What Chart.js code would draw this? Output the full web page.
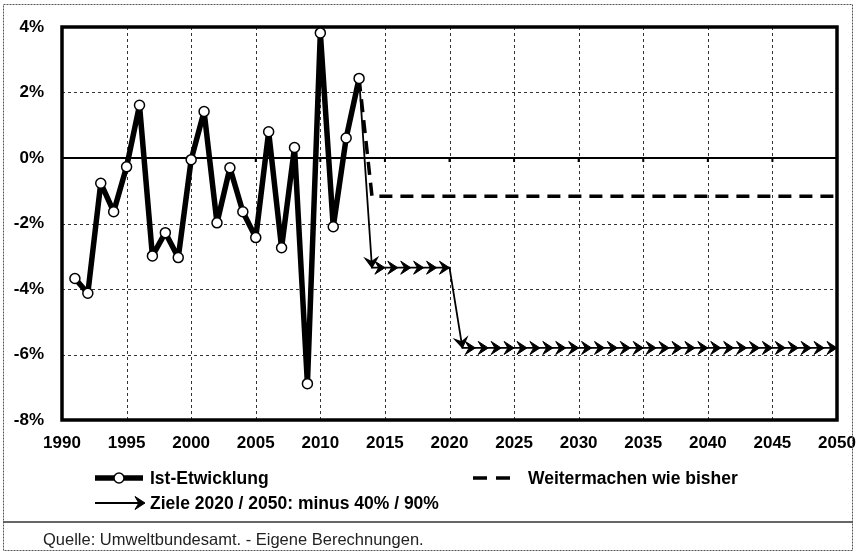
<!DOCTYPE html>
<html>
<head>
<meta charset="utf-8">
<script src="https://cdn.jsdelivr.net/npm/chart.js@4/dist/chart.umd.min.js"></script>
<style>
html,body{margin:0;padding:0;background:#fff;}
#wrap{width:856px;height:552px;position:relative;}
</style>
</head>
<body>
<div id="wrap"><canvas id="c" width="856" height="552"></canvas></div>
<script>
// ---- DATA ----
const istYears = [1991,1992,1993,1994,1995,1996,1997,1998,1999,2000,2001,2002,2003,2004,2005,2006,2007,2008,2009,2010,2011,2012,2013];
const istValues = [-3.68,-4.13,-0.77,-1.64,-0.27,1.61,-2.99,-2.28,-3.04,-0.05,1.42,-1.98,-0.30,-1.64,-2.43,0.80,-2.74,0.32,-6.89,3.82,-2.10,0.61,2.43];

const bauYears = [2013,2014,2050];
const bauValues = [2.43,-1.17,-1.17];

const zielYears = [2013,2014,2015,2016,2017,2018,2019,2020,2021,2022,2023,2024,2025,2026,2027,2028,2029,2030,2031,2032,2033,2034,2035,2036,2037,2038,2039,2040,2041,2042,2043,2044,2045,2046,2047,2048,2049,2050];
const zielValues = [2.43,-3.35,-3.35,-3.35,-3.35,-3.35,-3.35,-3.35,-5.8,-5.8,-5.8,-5.8,-5.8,-5.8,-5.8,-5.8,-5.8,-5.8,-5.8,-5.8,-5.8,-5.8,-5.8,-5.8,-5.8,-5.8,-5.8,-5.8,-5.8,-5.8,-5.8,-5.8,-5.8,-5.8,-5.8,-5.8,-5.8,-5.8];

const xTickMin = 1990, xTickMax = 2050, xTickStep = 5;
const yTickMin = -8, yTickMax = 4, yTickStep = 2;

const labels = {
  ist: 'Ist-Etwicklung',
  bau: 'Weitermachen wie bisher',
  ziel: 'Ziele 2020 / 2050: minus 40% / 90%',
  source: 'Quelle: Umweltbundesamt. - Eigene Berechnungen.'
};

const toPts = (xs, ys) => xs.map((x, i) => ({x: x, y: ys[i]}));

const FONT = '"Liberation Sans", Arial, sans-serif';

function drawArrowHead(ctx, x, y, ang, len, half) {
  ctx.save();
  ctx.translate(x, y);
  ctx.rotate(ang);
  ctx.beginPath();
  ctx.moveTo(0, 0);
  ctx.lineTo(-len, -half);
  ctx.lineTo(-len * 0.62, 0);
  ctx.lineTo(-len, half);
  ctx.closePath();
  ctx.fill();
  ctx.lineWidth = 1;
  ctx.lineJoin = 'miter';
  ctx.stroke();
  ctx.restore();
}

const decor = {
  id: 'decor',
  beforeDraw(chart) {
    const ctx = chart.ctx;
    ctx.save();
    ctx.fillStyle = '#fff';
    ctx.fillRect(0, 0, chart.width, chart.height);
    ctx.restore();
  },
  beforeDatasetsDraw(chart) {
    const ctx = chart.ctx, a = chart.chartArea;
    const xs = chart.scales.x, ys = chart.scales.y;
    ctx.save();
    ctx.strokeStyle = '#333';
    ctx.lineWidth = 1;
    ctx.setLineDash([3, 3]);
    xs.ticks.forEach(t => {
      if (t.value <= xTickMin || t.value >= xTickMax) return;
      const px = Math.round(xs.getPixelForValue(t.value)) + 0.5;
      ctx.beginPath(); ctx.moveTo(px, a.top); ctx.lineTo(px, a.bottom); ctx.stroke();
    });
    ys.ticks.forEach(t => {
      if (t.value <= yTickMin || t.value >= yTickMax || t.value === 0) return;
      const py = Math.round(ys.getPixelForValue(t.value)) + 0.5;
      ctx.beginPath(); ctx.moveTo(a.left, py); ctx.lineTo(a.right, py); ctx.stroke();
    });
    ctx.setLineDash([]);
    const y0 = ys.getPixelForValue(0);
    ctx.strokeStyle = '#000';
    ctx.lineWidth = 2;
    ctx.beginPath(); ctx.moveTo(a.left, y0); ctx.lineTo(a.right, y0); ctx.stroke();
    xs.ticks.forEach(t => {
      const px = xs.getPixelForValue(t.value);
      ctx.beginPath(); ctx.moveTo(px, y0); ctx.lineTo(px, y0 + 4); ctx.stroke();
    });
    ctx.lineWidth = 3.5;
    ctx.strokeRect(a.left, a.top, a.right - a.left, a.bottom - a.top);
    ctx.restore();
  },
  afterDatasetsDraw(chart) {
    const ctx = chart.ctx;
    const meta = chart.getDatasetMeta(2);
    ctx.save();
    ctx.fillStyle = '#000';
    ctx.strokeStyle = '#000';
    for (let i = 1; i < meta.data.length; i++) {
      const p0 = meta.data[i - 1], p1 = meta.data[i];
      const ang = Math.atan2(p1.y - p0.y, p1.x - p0.x);
      drawArrowHead(ctx, p1.x, p1.y, ang, 10, 6.5);
    }
    ctx.restore();
  },
  afterDraw(chart) {
    const ctx = chart.ctx;
    ctx.save();
    const r1 = 478, r2 = 503;
    ctx.strokeStyle = '#000';
    ctx.lineWidth = 5.5;
    ctx.beginPath(); ctx.moveTo(95, r1); ctx.lineTo(143, r1); ctx.stroke();
    ctx.fillStyle = '#fff';
    ctx.lineWidth = 1.5;
    ctx.beginPath(); ctx.arc(119, r1, 5, 0, Math.PI * 2); ctx.fill(); ctx.stroke();
    ctx.fillStyle = '#000';
    ctx.font = 'bold 17.5px ' + FONT;
    ctx.textAlign = 'left';
    ctx.textBaseline = 'middle';
    ctx.fillText(labels.ist, 150, r1 + 1);
    ctx.lineWidth = 3.5;
    ctx.beginPath(); ctx.moveTo(473, r1); ctx.lineTo(487, r1); ctx.moveTo(496, r1); ctx.lineTo(510, r1); ctx.stroke();
    ctx.fillText(labels.bau, 528, r1 + 1);
    ctx.lineWidth = 1.8;
    ctx.beginPath(); ctx.moveTo(95, r2); ctx.lineTo(140, r2); ctx.stroke();
    drawArrowHead(ctx, 145, r2, 0, 10, 6.5);
    ctx.fillText(labels.ziel, 150, r2 + 1);
    ctx.strokeStyle = '#333';
    ctx.lineWidth = 1.5;
    ctx.beginPath(); ctx.moveTo(3, 522); ctx.lineTo(853, 522); ctx.stroke();
    ctx.font = '16.5px ' + FONT;
    ctx.fillStyle = '#222';
    ctx.fillText(labels.source, 43, 540);
    ctx.strokeStyle = '#555';
    ctx.lineWidth = 1;
    ctx.setLineDash([2, 1]);
    ctx.strokeRect(3.5, 4.5, 849, 546);
    ctx.restore();
  }
};

new Chart(document.getElementById('c'), {
  type: 'line',
  data: {
    datasets: [
      {
        label: labels.ist,
        data: toPts(istYears, istValues),
        borderColor: '#000',
        borderWidth: 5.5,
        borderJoinStyle: 'round',
        pointRadius: 5,
        pointBackgroundColor: '#fff',
        pointBorderColor: '#000',
        pointBorderWidth: 1.5,
        tension: 0,
        order: 0
      },
      {
        label: labels.bau,
        data: toPts(bauYears, bauValues),
        borderColor: '#000',
        borderWidth: 3.5,
        borderDash: [13, 8],
        pointRadius: 0,
        tension: 0,
        order: 1
      },
      {
        label: labels.ziel,
        data: toPts(zielYears, zielValues),
        borderColor: '#000',
        borderWidth: 1.8,
        pointRadius: 0,
        tension: 0,
        order: 2
      }
    ]
  },
  options: {
    responsive: false,
    animation: false,
    devicePixelRatio: 1,
    layout: { padding: { top: 27, right: 19, bottom: 92, left: 0 } },
    plugins: { legend: { display: false }, tooltip: { enabled: false } },
    scales: {
      x: {
        type: 'linear',
        min: xTickMin, max: xTickMax,
        grid: { display: false, drawTicks: false },
        border: { display: false },
        ticks: {
          stepSize: xTickStep,
          autoSkip: false,
          maxRotation: 0,
          padding: 13,
          color: '#000',
          font: { family: FONT, size: 17, weight: 'bold' },
          callback: v => String(v)
        },
        afterFit: s => { s.height = 40; s.paddingLeft = 0; s.paddingRight = 0; }
      },
      y: {
        type: 'linear',
        min: yTickMin, max: yTickMax,
        grid: { display: false, drawTicks: false },
        border: { display: false },
        ticks: {
          stepSize: yTickStep,
          padding: 18,
          color: '#000',
          font: { family: FONT, size: 17, weight: 'bold' },
          callback: v => v + '%'
        },
        afterFit: s => { s.width = 62; s.paddingTop = 0; s.paddingBottom = 0; }
      }
    }
  },
  plugins: [decor]
});
</script>
</body>
</html>
